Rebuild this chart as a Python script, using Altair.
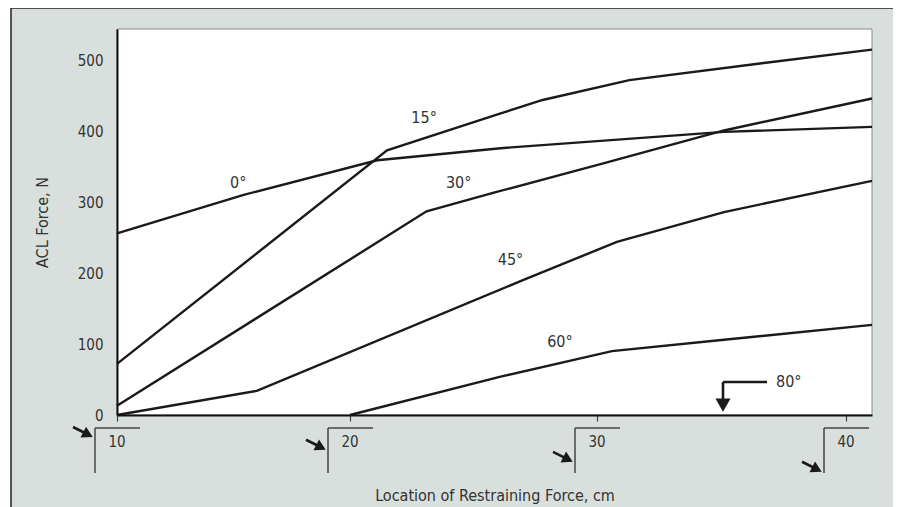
import altair as alt
import pandas as pd

# ---- data ----
x_0 = [10, 15.4, 21.1, 26.1, 35.1, 41.04]
y_0 = [256, 310, 359, 376, 399, 406]

x_15 = [10, 21.5, 26.1, 27.8, 31.3, 36.7, 41.04]
y_15 = [72, 373, 425, 444, 472, 496, 515]

x_30 = [10, 23.1, 25.9, 30.4, 35.1, 41.04]
y_30 = [13, 287, 314, 356, 401, 446]

x_45 = [10, 16.0, 27.0, 30.8, 35.1, 41.04]
y_45 = [0, 34, 190, 244, 286, 330]

x_60 = [20, 26.1, 30.6, 35.1, 41.04]
y_60 = [0, 54, 90, 106, 127]

curve_labels = ["0°", "15°", "30°", "45°", "60°"]
label_x = [15.2, 23.0, 24.4, 26.5, 28.5]
label_y = [327, 418, 327, 218, 103]

tick_values = [10, 20, 30, 40]
tick_labels = ["10", "20", "30", "40"]
arrow_level = [-31, -49, -66, -80]

mark80_label = "80°"
mark80_x = 35.06
mark80_x_end = 36.83
mark80_text_x = 37.7
mark80_y = 46.5
mark80_arrow_end = 17
mark80_head = 14

# ---- build tables ----
series = [("0°", x_0, y_0), ("15°", x_15, y_15), ("30°", x_30, y_30),
          ("45°", x_45, y_45), ("60°", x_60, y_60)]
rows = []
for name, xs, ys in series:
    for i, (xv, yv) in enumerate(zip(xs, ys)):
        rows.append({"angle": name, "order": i, "x": xv, "y": yv})
lines_df = pd.DataFrame(rows)
labels_df = pd.DataFrame({"label": curve_labels, "x": label_x, "y": label_y})
ticks_df = pd.DataFrame({"tick": tick_values, "label": tick_labels, "level": arrow_level})
m80_df = pd.DataFrame({"x": [mark80_x], "x2": [mark80_x_end], "tx": [mark80_text_x],
                       "y": [mark80_y], "yend": [mark80_arrow_end], "head": [mark80_head],
                       "label": [mark80_label]})

FONT = "DejaVu Sans Condensed, Liberation Sans Narrow, sans-serif"
INK = "#1a1a1a"
TXT = "#333333"
GRAY_BG = "#d9dfdc"
W, H = 755, 386

xscale = alt.Scale(domain=[10, 20, 30, 40, 41.04], range=[0, 233, 480, 729, W], nice=False, zero=False)
yscale = alt.Scale(domain=[0, 544], nice=False, zero=False)

xaxis = alt.Axis(values=tick_values, labels=False, tickSize=6, tickColor="#444", tickWidth=1.2,
                 domainColor="#111", domainWidth=2, grid=False,
                 title="Location of Restraining Force, cm", titleFont=FONT, titleFontSize=16,
                 titleFontWeight="normal", titleColor=TXT, titleY=80, titleBaseline="middle",
                 zindex=2)
yaxis = alt.Axis(values=[0, 100, 200, 300, 400, 500], ticks=False, labelPadding=14,
                 labelFont=FONT, labelFontSize=15, labelColor=TXT,
                 domainColor="#111", domainWidth=2, grid=False,
                 title="ACL Force, N", titleFont=FONT, titleFontSize=16, titleFontWeight="normal",
                 titleColor=TXT, titleX=-75, titleY=H / 2, titleAlign="center",
                 titleBaseline="middle", zindex=2)

base_x = alt.X("x:Q", scale=xscale, axis=xaxis)
base_y = alt.Y("y:Q", scale=yscale, axis=yaxis)

# frame and plot area
frame = alt.Chart(pd.DataFrame({"k": [0]})).mark_rect(
    fill=GRAY_BG, stroke="#222", strokeWidth=1.5, clip=False
).encode(x=alt.value(-106), x2=alt.value(W + 22), y=alt.value(-21), y2=alt.value(H + 120))

plot_bg = alt.Chart(pd.DataFrame({"k": [0]})).mark_rect(
    fill="white", stroke="#8a8a8a", strokeWidth=1
).encode(x=alt.value(0), x2=alt.value(W), y=alt.value(0), y2=alt.value(H))

lines = alt.Chart(lines_df).mark_line(color=INK, strokeWidth=2.4).encode(
    x=base_x, y=base_y, detail="angle:N", order="order:Q")

curve_text = alt.Chart(labels_df).mark_text(font=FONT, fontSize=16, color=TXT).encode(
    x=alt.X("x:Q", scale=xscale), y=alt.Y("y:Q", scale=yscale), text="label:N")

# bracket tick labels
bracket_v = alt.Chart(ticks_df).mark_rule(color="#444", strokeWidth=1.5, xOffset=-22,
                                          yOffset=13, y2Offset=58).encode(
    x=alt.X("tick:Q", scale=xscale), y=alt.datum(0), y2=alt.datum(0))
bracket_h = alt.Chart(ticks_df).mark_rule(color="#444", strokeWidth=1.5, xOffset=-22,
                                          x2Offset=23, yOffset=13).encode(
    x=alt.X("tick:Q", scale=xscale), x2=alt.X2("tick:Q"), y=alt.datum(0))
bracket_t = alt.Chart(ticks_df).mark_text(font=FONT, fontSize=15, color=TXT, yOffset=27,
                                          baseline="middle").encode(
    x=alt.X("tick:Q", scale=xscale), y=alt.datum(0), text="label:N")
arrow_shaft = alt.Chart(ticks_df).mark_rule(color=INK, strokeWidth=2.6, xOffset=-44, x2Offset=-32,
                                            yOffset=-10, y2Offset=-4).encode(
    x=alt.X("tick:Q", scale=xscale), x2=alt.X2("tick:Q"),
    y=alt.Y("level:Q", scale=yscale), y2=alt.Y2("level:Q"))
arrow_head = alt.Chart(ticks_df).mark_point(shape="triangle-right", filled=True, color=INK,
                                            opacity=1, size=150, angle=27, xOffset=-29,
                                            yOffset=-2.5).encode(
    x=alt.X("tick:Q", scale=xscale), y=alt.Y("level:Q", scale=yscale))

# 80 degree marker
m80_h = alt.Chart(m80_df).mark_rule(color=INK, strokeWidth=2.6).encode(
    x=alt.X("x:Q", scale=xscale), x2="x2:Q", y=alt.Y("y:Q", scale=yscale), y2="y:Q")
m80_v = alt.Chart(m80_df).mark_rule(color=INK, strokeWidth=2.6).encode(
    x=alt.X("x:Q", scale=xscale), y=alt.Y("y:Q", scale=yscale), y2="yend:Q")
m80_head = alt.Chart(m80_df).mark_point(shape="triangle-down", filled=True, color=INK,
                                        opacity=1, size=230).encode(
    x=alt.X("x:Q", scale=xscale), y=alt.Y("head:Q", scale=yscale))
m80_text = alt.Chart(m80_df).mark_text(font=FONT, fontSize=16, color=TXT).encode(
    x=alt.X("tx:Q", scale=xscale), y=alt.Y("y:Q", scale=yscale), text="label:N")

chart = alt.layer(
    frame, plot_bg, lines, curve_text, bracket_v, bracket_h, bracket_t,
    arrow_shaft, arrow_head, m80_h, m80_v, m80_head, m80_text
).properties(
    width=W, height=H,
    autosize=alt.AutoSizeParams(type="none"),
    padding={"left": 109, "top": 21, "right": 21, "bottom": 92},
    background="white",
).configure_view(stroke=None, fill=None)

chart.save("out.html", embed_options={"renderer": "svg", "actions": False})
